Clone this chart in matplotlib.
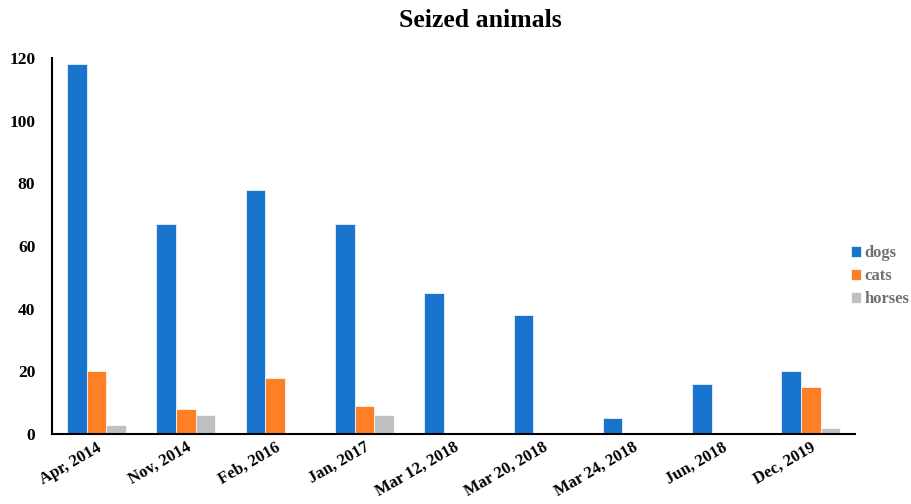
import matplotlib.pyplot as plt
import numpy as np

dates = ["Apr, 2014", "Nov, 2014", "Feb, 2016", "Jan, 2017", "Mar 12, 2018",
         "Mar 20, 2018", "Mar 24, 2018", "Jun, 2018", "Dec, 2019"]
dogs = [118, 67, 78, 67, 45, 38, 5, 16, 20]
cats = [20, 8, 18, 9, 0, 0, 0, 0, 15]
horses = [3, 6, 0, 6, 0, 0, 0, 0, 2]

plt.rcParams['font.family'] = ['Liberation Serif', 'DejaVu Serif']
plt.rcParams['font.weight'] = 'bold'

fig = plt.figure(figsize=(9.12, 5.04), dpi=100)
ax = fig.add_axes([0.057, 0.139, 0.881, 0.746])

x = np.arange(len(dates))
w = 0.22
ax.bar(x - w, dogs, w, color="#1874cd", edgecolor="white", linewidth=0.5, label="dogs")
ax.bar(x, cats, w, color="#ff7f27", edgecolor="white", linewidth=0.5, label="cats")
ax.bar(x + w, horses, w, color="#c0c0c0", edgecolor="white", linewidth=0.5, label="horses")

ax.set_xlim(-0.5, len(dates) - 0.5)
ax.set_ylim(0, 120)
ax.set_yticks(range(0, 121, 20))
ax.set_xticks(x)
ax.set_xticklabels(dates, rotation=30, ha="right", rotation_mode="anchor", fontsize=12, fontweight="bold")
ax.tick_params(axis="y", length=0, labelsize=12.5, pad=12)
ax.tick_params(axis="x", length=0, pad=4)
for s in ["top", "right"]:
    ax.spines[s].set_visible(False)
ax.spines["left"].set_linewidth(1.5)
ax.spines["bottom"].set_linewidth(1.5)

fig.suptitle("Seized animals", x=0.527, y=0.982, fontsize=18.5, fontweight="bold")

leg = fig.legend(loc="center left", bbox_to_anchor=(0.917, 0.452), frameon=False,
                 handlelength=0.6, handleheight=0.6, handletextpad=0.2,
                 labelspacing=0.42, prop={"size": 12, "weight": "bold"})
for t in leg.get_texts():
    t.set_color("#707070")

fig.savefig("out.png", dpi=100)
